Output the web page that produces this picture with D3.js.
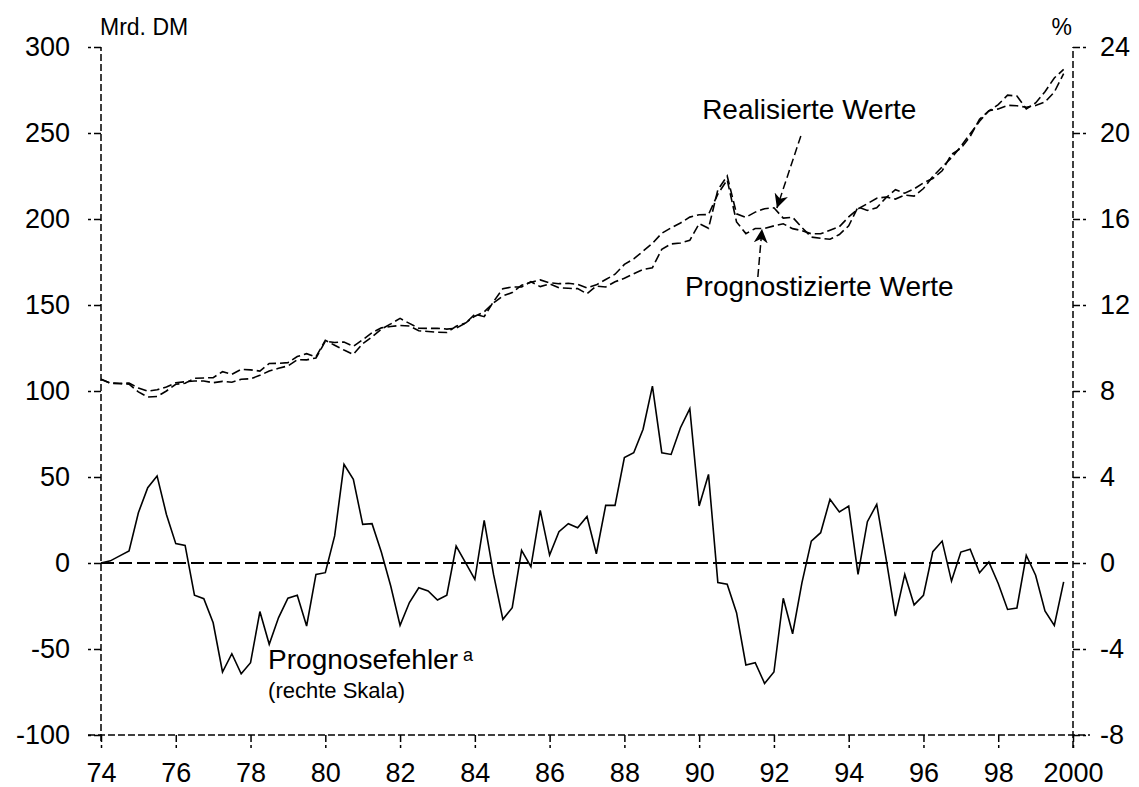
<!DOCTYPE html>
<html>
<head>
<meta charset="utf-8">
<script src="https://cdn.jsdelivr.net/npm/d3@7"></script>
<style>
  body { margin: 0; background: #fff; }
  svg text { font-family: "Liberation Sans", Arial, Helvetica, sans-serif; fill: #000; }
</style>
</head>
<body>
<svg id="chart"></svg>
<script>
// quarterly values 1974 Q1 .. 1999 Q4
var startYear = 74
var realisiert = [
  106.8, 104.5, 104.2, 104.0, 99.5, 96.5, 96.8, 100.0, 103.9, 104.5,
  107.4, 107.6, 107.8, 111.2, 109.7, 112.6, 112.3, 111.6, 116.0, 116.1,
  116.5, 120.0, 121.7, 119.8, 129.5, 126.6, 123.8, 121.3, 127.5, 131.5,
  136.0, 139.0, 142.2, 139.3, 136.5, 136.4, 136.5, 136.0, 136.5, 139.5,
  144.6, 143.2, 152.0, 159.5, 160.5, 160.5, 163.5, 160.7, 162.3, 160.0,
  159.7, 159.5, 156.5, 161.0, 160.5, 163.5, 165.5, 168.2, 170.7, 171.7,
  182.4, 185.5, 186.0, 187.6, 197.3, 194.6, 217.0, 225.0, 203.0, 201.0,
  204.0, 206.0, 206.5, 200.5, 201.0, 195.0, 189.5, 188.8, 188.2, 191.0,
  196.0, 207.0, 205.0, 206.5, 212.4, 217.0, 215.0, 217.5, 221.0, 223.5,
  228.0, 237.6, 241.0, 248.0, 258.0, 262.8, 266.5, 272.0, 271.5, 264.0,
  267.5, 274.0, 282.0, 287.0
]
var prognose = [
  106.8, 104.6, 104.5, 104.6, 101.8, 99.9, 100.7, 102.3, 104.8, 105.4,
  105.8, 105.8, 104.8, 105.6, 105.1, 106.8, 107.1, 109.1, 111.6, 113.2,
  114.6, 118.2, 118.1, 119.2, 128.9, 128.2, 128.5, 126.0, 129.8, 133.9,
  136.7, 137.5, 138.1, 137.8, 135.0, 134.6, 134.2, 134.0, 137.6, 139.5,
  143.5, 146.0, 151.2, 155.3, 157.2, 161.5, 163.2, 164.6, 162.9, 162.4,
  162.6, 162.0, 160.0, 161.7, 164.8, 167.9, 173.6, 176.8, 181.3, 185.8,
  191.7, 194.9, 197.7, 201.1, 202.5, 202.6, 214.5, 222.8, 198.3, 191.5,
  194.5, 194.5, 196.0, 197.2, 194.4, 193.2, 191.4, 191.4, 193.5, 195.5,
  201.2, 205.9, 208.9, 212.1, 212.8, 211.6, 213.9, 213.3, 217.7, 224.7,
  230.3, 235.6, 242.2, 249.6, 256.8, 263.0, 264.0, 266.1, 265.8, 265.0,
  266.0, 268.0, 273.8, 284.5
]
// Prognosefehler in % (rechte Skala)
var fehler = [
  0, 0.1, 0.33, 0.56, 2.34, 3.5, 4.05, 2.26, 0.9, 0.82,
  -1.5, -1.66, -2.78, -5.07, -4.22, -5.15, -4.64, -2.26, -3.78, -2.54,
  -1.64, -1.5, -2.93, -0.53, -0.45, 1.26, 4.59, 3.89, 1.8, 1.83,
  0.5, -1.07, -2.9, -1.84, -1.15, -1.3, -1.72, -1.5, 0.79, 0.02,
  -0.76, 1.98, -0.53, -2.62, -2.08, 0.59, -0.17, 2.45, 0.37, 1.46,
  1.83, 1.64, 2.16, 0.43, 2.68, 2.68, 4.9, 5.13, 6.22, 8.23,
  5.13, 5.05, 6.29, 7.18, 2.65, 4.12, -0.91, -0.99, -2.31, -4.74,
  -4.64, -5.6, -5.07, -1.64, -3.29, -0.91, 1.02, 1.41, 2.96, 2.37,
  2.65, -0.53, 1.92, 2.73, 0.2, -2.47, -0.53, -1.95, -1.5, 0.53,
  1.02, -0.84, 0.51, 0.64, -0.45, 0.05, -0.95, -2.16, -2.09, 0.36,
  -0.57, -2.23, -2.9, -0.88
]
var xTicks = [74, 76, 78, 80, 82, 84, 86, 88, 90, 92, 94, 96, 98, 100]
var leftTicks = [-100, -50, 0, 50, 100, 150, 200, 250, 300]
var rightTicks = [-8, -4, 0, 4, 8, 12, 16, 20, 24]

var width = 1139
var height = 787
var svg = d3.select('#chart').attr('width', width).attr('height', height)

var x = d3.scaleLinear().domain([74, 100]).range([101, 1073])
var yL = d3.scaleLinear().domain([-100, 300]).range([735, 47])
var yR = d3.scaleLinear().domain([-8, 24]).range([735, 47])

function t(i) { return startYear + i / 4 }
// plain hyphen as minus sign, like the original
function fmt(d) { return String(d) }

// axes
var axisDash = '7,3'
var gx = svg.append('g').attr('transform', 'translate(0,735)')
  .call(d3.axisBottom(x).tickValues(xTicks).tickSize(13).tickSizeOuter(0).tickPadding(15)
    .tickFormat(function (d) { return d === 100 ? '2000' : fmt(d) }))
var gl = svg.append('g').attr('transform', 'translate(101,0)')
  .call(d3.axisLeft(yL).tickValues(leftTicks).tickSize(13).tickSizeOuter(0).tickPadding(18).tickFormat(fmt))
var gr = svg.append('g').attr('transform', 'translate(1073,0)')
  .call(d3.axisRight(yR).tickValues(rightTicks).tickSize(13).tickSizeOuter(0).tickPadding(14).tickFormat(fmt))

;[gx, gl, gr].forEach(function (g) {
  g.select('.domain').attr('stroke', '#000').attr('stroke-width', 1.5).attr('stroke-dasharray', axisDash)
  g.selectAll('.tick line').attr('stroke', '#000').attr('stroke-width', 1.5).attr('stroke-dasharray', axisDash)
  g.selectAll('.tick text').attr('font-size', 27).attr('fill', '#000')
})
// extend vertical axes a bit below the bottom line
gl.select('.domain').attr('d', 'M0,' + (yL(-100) + 6) + 'V' + yL(300))
gr.select('.domain').attr('d', 'M0,' + (yR(-8) + 13) + 'V' + yR(24))
gx.select('.domain').attr('d', 'M' + (x(74) - 13) + ',0H' + (x(100) + 17))

// zero line
svg.append('line')
  .attr('x1', x(74)).attr('x2', x(100))
  .attr('y1', yL(0)).attr('y2', yL(0))
  .attr('stroke', '#000').attr('stroke-width', 2)
  .attr('stroke-dasharray', '13,5')

// units
svg.append('text').attr('x', 100).attr('y', 35).attr('font-size', 23).text('Mrd. DM')
svg.append('text').attr('x', 1072).attr('y', 35).attr('font-size', 23).attr('text-anchor', 'end').text('%')

// series
var lineL = function (arr) {
  return d3.line().x(function (d, i) { return x(t(i)) }).y(function (d) { return yL(d) })(arr)
}
svg.append('path').attr('d', lineL(realisiert))
  .attr('fill', 'none').attr('stroke', '#000').attr('stroke-width', 1.6).attr('stroke-dasharray', '9,4')
svg.append('path').attr('d', lineL(prognose))
  .attr('fill', 'none').attr('stroke', '#000').attr('stroke-width', 1.6).attr('stroke-dasharray', '9,4')

var lineR = d3.line().x(function (d, i) { return x(t(i)) }).y(function (d) { return yR(d) })
svg.append('path').attr('d', lineR(fehler))
  .attr('fill', 'none').attr('stroke', '#000').attr('stroke-width', 1.6)

// arrow marker
svg.append('defs').append('marker')
  .attr('id', 'arr').attr('viewBox', '0 0 10 10').attr('refX', 10).attr('refY', 5)
  .attr('markerWidth', 14).attr('markerHeight', 14).attr('markerUnits', 'userSpaceOnUse')
  .attr('orient', 'auto')
  .append('path').attr('d', 'M0,0L10,5L0,10L3,5Z').attr('fill', '#000')

// annotations
svg.append('text').attr('x', x(90.08)).attr('y', yL(258)).attr('font-size', 28).text('Realisierte Werte')
svg.append('line')
  .attr('x1', x(92.72)).attr('y1', yL(248.3)).attr('x2', x(92.08)).attr('y2', yL(206.4))
  .attr('stroke', '#000').attr('stroke-width', 1.5).attr('stroke-dasharray', '8,4')
  .attr('marker-end', 'url(#arr)')

svg.append('text').attr('x', x(89.62)).attr('y', yL(155.2)).attr('font-size', 28).text('Prognostizierte Werte')
svg.append('line')
  .attr('x1', x(91.57)).attr('y1', yL(166.3)).attr('x2', x(91.68)).attr('y2', yL(194.2))
  .attr('stroke', '#000').attr('stroke-width', 1.5).attr('stroke-dasharray', '8,4')
  .attr('marker-end', 'url(#arr)')

var pf = svg.append('text').attr('x', x(78.47)).attr('y', yL(-61.6)).attr('font-size', 28)
pf.append('tspan').text('Prognosefehler')
pf.append('tspan').attr('font-size', 18).attr('dy', -8).text(' a')
svg.append('text').attr('x', x(78.47)).attr('y', yL(-78.5)).attr('font-size', 22).text('(rechte Skala)')
</script>
</body>
</html>
